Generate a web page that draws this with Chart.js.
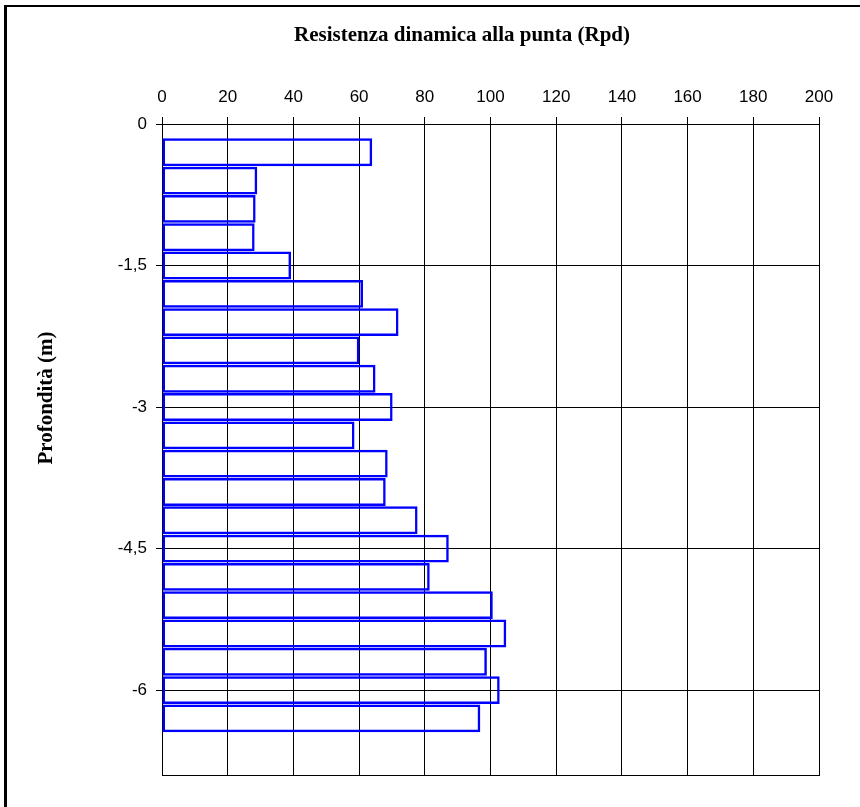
<!DOCTYPE html>
<html>
<head>
<meta charset="utf-8">
<script src="https://cdn.jsdelivr.net/npm/chart.js@4/dist/chart.umd.min.js"></script>
<style>
    html, body { margin: 0; padding: 0; background: #fff; }
    #wrap { position: relative; width: 860px; height: 807px; }
</style>
</head>
<body>
<div id="wrap"><canvas id="rpdChart" width="860" height="807"></canvas></div>
<script>
// Depth of each reading (m) and dynamic point resistance Rpd
const depths = [-0.3, -0.6, -0.9, -1.2, -1.5, -1.8, -2.1, -2.4, -2.7, -3.0, -3.3,
                -3.6, -3.9, -4.2, -4.5, -4.8, -5.1, -5.4, -5.7, -6.0, -6.3];
const rpd = [64, 29, 28.5, 28.2, 39.3, 61.2, 72, 60.1, 65, 70.2, 58.6,
             68.7, 68.1, 77.8, 87.3, 81.5, 100.7, 104.8, 98.9, 102.8, 96.9];
const depthTicks = [0, -1.5, -3, -4.5, -6];
const titleText = 'Resistenza dinamica alla punta (Rpd)';
const yTitleText = 'Profondità (m)';

// Titles, plot box and outer frame (Excel-like chart border)
const decorations = {
    id: 'decorations',
    beforeDatasetsDraw(chart) {
        const { ctx, chartArea } = chart;
        ctx.save();
        ctx.strokeStyle = '#000';
        ctx.lineWidth = 1;
        ctx.strokeRect(Math.round(chartArea.left) + 0.5, Math.round(chartArea.top) + 0.5,
            Math.round(chartArea.right - chartArea.left), Math.round(chartArea.bottom - chartArea.top));
        ctx.restore();
    },
    afterDraw(chart) {
        const ctx = chart.ctx;
        ctx.save();
        ctx.fillStyle = '#000';
        ctx.fillRect(4, 5, 856, 2);
        ctx.fillRect(4, 5, 3, 802);

        ctx.font = 'bold 21px "Liberation Serif", "Times New Roman", serif';
        ctx.textAlign = 'center';
        ctx.textBaseline = 'alphabetic';
        ctx.fillText(titleText, 462, 41);

        ctx.translate(52, 398);
        ctx.rotate(-Math.PI / 2);
        ctx.fillText(yTitleText, 0, 0);
        ctx.restore();
    }
};

const ctx = document.getElementById('rpdChart').getContext('2d');
new Chart(ctx, {
    type: 'bar',
    data: {
        datasets: [{
            label: 'Rpd',
            data: depths.map((d, i) => ({ x: rpd[i], y: d })),
            backgroundColor: 'rgba(0, 0, 0, 0)',
            borderColor: 'rgb(0, 0, 255)',
            borderWidth: 2.5,
            borderSkipped: false,
            categoryPercentage: 1,
            barPercentage: 0.985
        }]
    },
    options: {
        indexAxis: 'y',
        responsive: false,
        animation: false,
        layout: {
            padding: { left: 102, top: 84, right: 41, bottom: 32 }
        },
        plugins: {
            legend: { display: false },
            tooltip: { enabled: false }
        },
        scales: {
            x: {
                type: 'linear',
                position: 'top',
                min: 0,
                max: 200,
                afterFit: (scale) => { scale.height = 40; },
                ticks: {
                    stepSize: 20,
                    color: '#000',
                    padding: 9,
                    maxRotation: 0,
                    font: { family: '"Liberation Sans", Arial, sans-serif', size: 17 }
                },
                grid: { color: '#000', lineWidth: 1, tickLength: 7 },
                border: { color: '#000', width: 1 }
            },
            y: {
                type: 'linear',
                min: -6.9,
                max: 0,
                offset: false,
                afterFit: (scale) => { scale.width = 60; },
                afterBuildTicks: (scale) => {
                    scale.ticks = depthTicks.map(v => ({ value: v }));
                },
                ticks: {
                    color: '#000',
                    padding: 9,
                    font: { family: '"Liberation Sans", Arial, sans-serif', size: 17 },
                    callback: (value) => String(value).replace('.', ',')
                },
                grid: { offset: false, color: '#000', lineWidth: 1, tickLength: 6 },
                border: { color: '#000', width: 1 }
            }
        }
    },
    plugins: [decorations]
});
</script>
</body>
</html>
